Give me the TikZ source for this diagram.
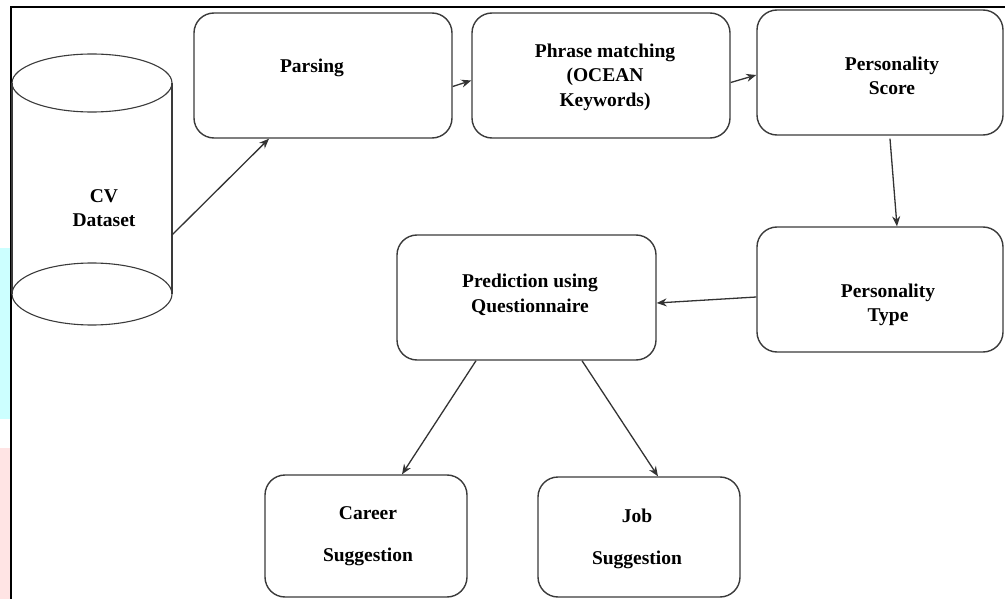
\documentclass[tikz,border=0pt]{standalone}
\usepackage{fontspec}
\setmainfont{Liberation Serif}
\usetikzlibrary{arrows.meta}

\definecolor{boxgray}{HTML}{3A3A3A}
\definecolor{linegray}{HTML}{333333}
\definecolor{stripcyan}{RGB}{204,255,255}
\definecolor{strippink}{RGB}{255,228,228}

\begin{document}
\begin{tikzpicture}[x=1pt, y=-1pt,
    box/.style = {draw=boxgray, line width=1.4pt, rounded corners=20pt, inner sep=0pt,
                  minimum width=258pt, minimum height=125pt},
    boxtext/.style = {font=\fontsize{19.5}{24.5}\selectfont\bfseries, align=center, inner sep=0pt},
    flow/.style = {draw=linegray, line width=1.3pt, -{Stealth[length=10pt,width=8pt]}}]
  \useasboundingbox (0,0) rectangle (1005,599);
  % Side strips and frame
  \fill[stripcyan] (0,248) rectangle (10,419);
  \fill[strippink] (0,448) rectangle (10,599);
  \draw[line width=2pt] (11,599) -- (11,7) -- (1005,7);
  % CV dataset cylinder
  \draw[draw=boxgray, line width=1.1pt] (12,83) -- (12,294);
  \draw[draw=boxgray, line width=1.1pt] (172,83) -- (172,294);
  \draw[draw=boxgray, line width=1.1pt] (92,83) ellipse [x radius=80pt, y radius=29pt];
  \draw[draw=boxgray, line width=1.1pt] (92,294) ellipse [x radius=80pt, y radius=31pt];
  \node[boxtext] (cv) at (104,208) {CV\\Dataset};
  \coordinate (cvout) at (172,235);
  % Define boxes
  \node[box] (parse) at (323,75.5) {};
  \node[box] (phrase) at (601,75.5) {};
  \node[box, minimum width=246pt] (score) at (880,72.5) {};
  \node[box, minimum width=246pt] (type) at (880,289.5) {};
  \node[box, minimum width=259pt] (pred) at (526.5,297.5) {};
  \node[box, minimum width=202pt, minimum height=122pt] (career) at (366,536) {};
  \node[box, minimum width=202pt, minimum height=120pt] (job) at (639,537) {};
  % Box texts
  \node[boxtext] (parsetxt) at (312,68) {Parsing};
  \node[boxtext] (phrasetxt) at (605,77) {Phrase matching\\(OCEAN\\Keywords)};
  \node[boxtext] (scoretxt) at (892,76) {Personality\\Score};
  \node[boxtext] (typetxt) at (888,305) {Personality\\Type};
  \node[boxtext] (predtxt) at (530,295) {Prediction using\\Questionnaire};
  \node[boxtext] (careertxt) at (368,536) {Career\\[18pt]Suggestion};
  \node[boxtext] (jobtxt) at (637,539) {Job\\[17pt]Suggestion};
  % Add edges
  \draw[flow] (cvout) -- ([xshift=-54pt]parse.south);
  \draw[flow] ([yshift=-11pt]parse.east) -- ([yshift=-5pt]phrase.west);
  \draw[flow] ([yshift=-7pt]phrase.east) -- ([yshift=-2.5pt]score.west);
  \draw[flow] ([xshift=10pt,yshift=-3pt]score.south) -- ([xshift=17pt]type.north);
  \draw[flow] ([yshift=-7.5pt]type.west) -- ([yshift=-5.5pt]pred.east);
  \draw[flow] ([xshift=-50.5pt]pred.south) -- ([xshift=36pt]career.north);
  \draw[flow] ([xshift=55.5pt]pred.south) -- ([xshift=19pt]job.north);
\end{tikzpicture}
\end{document}
